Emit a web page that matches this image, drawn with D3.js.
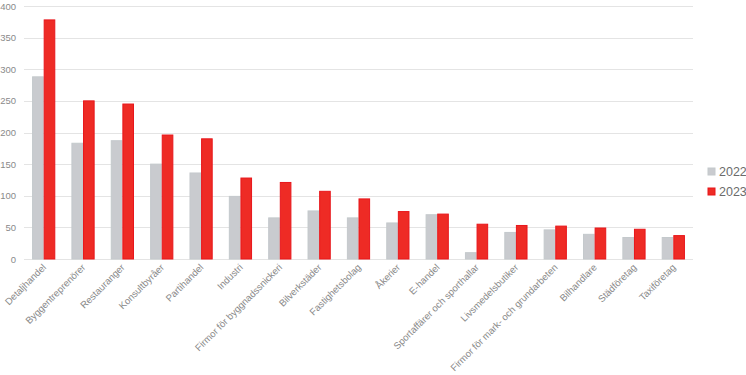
<!DOCTYPE html>
<html lang="sv">
<head>
<meta charset="UTF-8">
<title>Branscher 2022 och 2023</title>
<script src="https://d3js.org/d3.v7.min.js"></script>
<style>
    body { margin: 0; background: #fff; font-family: 'Liberation Sans', Arial, sans-serif; }
    .grid line { stroke: #e4e4e4; stroke-width: 1px; }
    .tick-y { fill: #8a8a8a; font-size: 9.5px; }
    .tick-x { fill: #8a8a8a; font-size: 9.6px; }
    .legend text { fill: #6b6b6b; font-size: 12.5px; }
</style>
</head>
<body>
<svg id="chart" width="746" height="375"></svg>
<script>
    // Branscher
    const categories = [
        "Detaljhandel", "Byggentreprenörer", "Restauranger", "Konsultbyråer", "Partihandel",
        "Industri", "Firmor för byggnadssnickeri", "Bilverkstäder", "Fastighetsbolag", "Åkerier",
        "E-handel", "Sportaffärer och sporthallar", "Livsmedelsbutiker",
        "Firmor för mark- och grundarbeten", "Bilhandlare", "Städföretag", "Taxiföretag"
    ];
    const years = ["2022", "2023"];
    const values2022 = [288, 183, 187, 150, 136, 99, 65, 76, 65, 57, 70, 10, 42, 46, 39, 34, 34];
    const values2023 = [378, 250, 245, 196, 190, 128, 121, 107, 95, 75, 71, 55, 53, 52, 49, 47, 37];
    const yTicks = [0, 50, 100, 150, 200, 250, 300, 350, 400];

    const colors = { "2022": "#c9cbcf", "2023": "#ee2b25" };
    const strokes = { "2022": "#c4c9cc", "2023": "#e8161b" };

    const svg = d3.select("#chart");
    const plotLeft = 24, plotRight = 693, plotTop = 6, plotBottom = 259;

    const x0 = d3.scaleBand().domain(categories).range([plotLeft, plotRight])
        .paddingInner(0.41).paddingOuter(0.205);
    const x1 = d3.scaleBand().domain(years).range([0, x0.bandwidth()]);
    const y = d3.scaleLinear().domain([0, 400]).range([plotBottom, plotTop]);

    // gridlines
    svg.append("g").attr("class", "grid")
        .selectAll("line").data(yTicks).join("line")
        .attr("x1", plotLeft).attr("x2", plotRight)
        .attr("y1", d => Math.round(y(d)) + 0.5).attr("y2", d => Math.round(y(d)) + 0.5);

    svg.append("g").selectAll("text").data(yTicks).join("text")
        .attr("class", "tick-y")
        .attr("x", 16).attr("y", d => y(d) + 3.5)
        .attr("text-anchor", "end")
        .text(d => d);

    const rows = categories.map((c, i) => ({ c, v: [values2022[i], values2023[i]] }));

    const groups = svg.append("g").selectAll("g").data(rows).join("g")
        .attr("transform", d => `translate(${x0(d.c)},0)`);

    groups.selectAll("rect").data(d => years.map((yr, j) => ({ yr, v: d.v[j] }))).join("rect")
        .attr("x", d => x1(d.yr) + 0.5)
        .attr("width", x1.bandwidth() - 1)
        .attr("y", d => y(d.v))
        .attr("height", d => plotBottom - y(d.v))
        .attr("fill", d => colors[d.yr])
        .attr("stroke", d => strokes[d.yr])
        .attr("stroke-width", 1);

    // x labels
    svg.append("g").selectAll("text").data(categories).join("text")
        .attr("class", "tick-x")
        .attr("text-anchor", "end")
        .attr("transform", d => `translate(${x0(d) + x0.bandwidth() / 2 + 3},${plotBottom + 9}) rotate(-45)`)
        .text(d => d);

    // legend
    const legend = svg.append("g").attr("class", "legend")
        .selectAll("g").data(years).join("g")
        .attr("transform", (d, i) => `translate(708,${168 + i * 20})`);
    legend.append("rect").attr("width", 7).attr("height", 7)
        .attr("fill", d => colors[d]).attr("stroke", d => strokes[d]);
    legend.append("text").attr("x", 11).attr("y", 8).text(d => d);
</script>
</body>
</html>
